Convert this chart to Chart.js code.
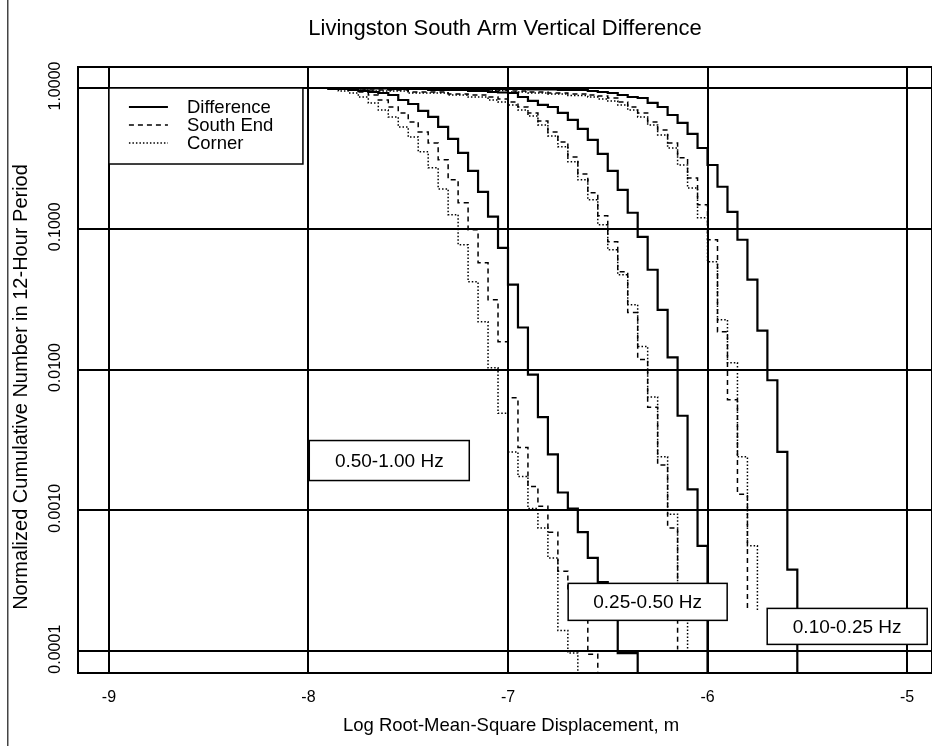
<!DOCTYPE html>
<html>
<head>
<meta charset="utf-8">
<script src="https://cdn.jsdelivr.net/npm/chart.js@4.4.1/dist/chart.umd.min.js"></script>
<style>
  html, body { margin: 0; padding: 0; background: #fff; }
  #wrap { width: 932px; height: 746px; position: relative; }
</style>
</head>
<body>
<div id="wrap"><canvas id="chart"></canvas></div>
<script>
const seriesNames = ["Difference", "South End", "Corner"];
const bandNames = ["0.50-1.00 Hz", "0.25-0.50 Hz", "0.10-0.25 Hz"];

const xTicks = [-9, -8, -7, -6, -5];
const yTicks = [0.0001, 0.001, 0.01, 0.1, 1];
const yTickLabels = ["0.0001", "0.0010", "0.0100", "0.1000", "1.0000"];

// 0.50-1.00 Hz
const diffHighX = [-8.0, -7.9, -7.8, -7.75, -7.7, -7.65, -7.6, -7.55, -7.5, -7.45, -7.4, -7.35, -7.3, -7.25, -7.2, -7.15, -7.1, -7.05, -7.0, -6.95, -6.9, -6.85, -6.8, -6.75, -6.7, -6.65, -6.6, -6.55, -6.5, -6.45, -6.35];
const diffHighY = [1.0, 0.984, 0.968, 0.952, 0.937, 0.922, 0.892, 0.822, 0.770, 0.687, 0.623, 0.529, 0.435, 0.346, 0.258, 0.183, 0.122, 0.0733, 0.0401, 0.0199, 0.0092, 0.0046, 0.0025, 0.00134, 0.00103, 0.00070, 0.00046, 0.00031, 0.00022, 0.000097, 0.00005];
const southHighX = [-8.0, -7.9, -7.8, -7.75, -7.7, -7.65, -7.6, -7.55, -7.5, -7.45, -7.4, -7.35, -7.3, -7.25, -7.2, -7.15, -7.1, -7.05, -7.0, -6.95, -6.9, -6.85, -6.8, -6.75, -6.7, -6.65, -6.6, -6.55];
const southHighY = [1.0, 0.984, 0.968, 0.937, 0.892, 0.822, 0.733, 0.665, 0.574, 0.488, 0.407, 0.309, 0.223, 0.153, 0.0984, 0.0574, 0.0314, 0.0158, 0.0063, 0.0028, 0.00148, 0.00107, 0.00070, 0.00037, 0.00027, 0.00020, 0.000095, 0.00005];
const cornerHighX = [-8.0, -7.9, -7.85, -7.8, -7.75, -7.7, -7.65, -7.6, -7.55, -7.5, -7.45, -7.4, -7.35, -7.3, -7.25, -7.2, -7.15, -7.1, -7.05, -7.0, -6.95, -6.9, -6.85, -6.8, -6.75, -6.7, -6.65];
const cornerHighY = [1.0, 0.984, 0.952, 0.922, 0.863, 0.783, 0.698, 0.623, 0.529, 0.449, 0.352, 0.271, 0.192, 0.126, 0.0770, 0.0421, 0.0219, 0.0103, 0.0049, 0.0026, 0.00174, 0.00103, 0.00075, 0.00046, 0.00014, 0.000097, 0.00005];

// 0.25-0.50 Hz
const diffMidX = [-8.0, -7.8, -7.6, -7.4, -7.2, -7.1, -7.05, -7.0, -6.95, -6.9, -6.85, -6.8, -6.75, -6.7, -6.65, -6.6, -6.55, -6.5, -6.45, -6.4, -6.35, -6.3, -6.25, -6.2, -6.15, -6.1, -6.05, -6.0];
const diffMidY = [1.0, 0.992, 0.984, 0.968, 0.952, 0.937, 0.929, 0.922, 0.863, 0.809, 0.758, 0.733, 0.665, 0.593, 0.512, 0.428, 0.340, 0.258, 0.189, 0.130, 0.0877, 0.0512, 0.0266, 0.0122, 0.0047, 0.00141, 0.00056, 0.00005];
const southMidX = [-8.0, -7.9, -7.7, -7.5, -7.3, -7.2, -7.1, -7.05, -7.0, -6.95, -6.9, -6.85, -6.8, -6.75, -6.7, -6.65, -6.6, -6.55, -6.5, -6.45, -6.4, -6.35, -6.3, -6.25, -6.2, -6.15];
const southMidY = [1.0, 0.984, 0.968, 0.937, 0.907, 0.892, 0.863, 0.836, 0.796, 0.733, 0.665, 0.583, 0.488, 0.414, 0.324, 0.245, 0.180, 0.124, 0.0809, 0.0495, 0.0254, 0.0118, 0.0054, 0.0021, 0.00075, 0.000103];
const cornerMidX = [-8.0, -7.9, -7.7, -7.5, -7.3, -7.2, -7.1, -7.05, -7.0, -6.95, -6.9, -6.85, -6.8, -6.75, -6.7, -6.65, -6.6, -6.55, -6.5, -6.45, -6.4, -6.35, -6.3, -6.25, -6.2, -6.15, -6.1];
const cornerMidY = [1.0, 0.984, 0.952, 0.922, 0.892, 0.863, 0.822, 0.796, 0.758, 0.698, 0.633, 0.547, 0.457, 0.382, 0.299, 0.223, 0.161, 0.107, 0.0710, 0.0472, 0.0289, 0.0146, 0.0064, 0.0024, 0.00094, 0.00023, 0.000098];

// 0.10-0.25 Hz
const diffLowX = [-8.0, -7.6, -7.2, -6.9, -6.75, -6.6, -6.55, -6.5, -6.45, -6.4, -6.35, -6.3, -6.25, -6.2, -6.15, -6.1, -6.05, -6.0, -5.95, -5.9, -5.85, -5.8, -5.75, -5.7, -5.65, -5.6, -5.55];
const diffLowY = [1.0, 0.992, 0.984, 0.976, 0.968, 0.952, 0.937, 0.922, 0.892, 0.863, 0.849, 0.783, 0.733, 0.643, 0.565, 0.472, 0.375, 0.284, 0.199, 0.132, 0.0836, 0.0435, 0.0189, 0.0084, 0.0026, 0.00038, 0.00005];
const southLowX = [-8.0, -7.6, -7.2, -7.0, -6.9, -6.8, -6.7, -6.6, -6.55, -6.5, -6.45, -6.4, -6.35, -6.3, -6.25, -6.2, -6.15, -6.1, -6.05, -6.0, -5.95, -5.9, -5.85, -5.8];
const southLowY = [1.0, 0.984, 0.968, 0.952, 0.937, 0.922, 0.907, 0.892, 0.878, 0.849, 0.796, 0.733, 0.665, 0.574, 0.504, 0.407, 0.319, 0.230, 0.148, 0.0836, 0.0186, 0.0061, 0.00130, 0.00019];
const cornerLowX = [-8.0, -7.6, -7.2, -7.0, -6.9, -6.8, -6.7, -6.6, -6.55, -6.5, -6.45, -6.4, -6.35, -6.3, -6.25, -6.2, -6.15, -6.1, -6.05, -6.0, -5.95, -5.9, -5.85, -5.8, -5.75];
const cornerLowY = [1.0, 0.984, 0.960, 0.937, 0.922, 0.907, 0.885, 0.863, 0.836, 0.809, 0.758, 0.698, 0.623, 0.547, 0.464, 0.375, 0.284, 0.195, 0.120, 0.0583, 0.0226, 0.0112, 0.0024, 0.00056, 0.00019];

// where the band labels sit (data units)
const bandLabelX = [-7.595, -6.3, -5.3];
const bandLabelY = [0.00226, 0.000224, 0.00015];

const FONT = '"Liberation Sans", Arial, Helvetica, sans-serif';
const styles = [
    { borderWidth: 2.2, borderDash: [] },
    { borderWidth: 1.5, borderDash: [5, 4] },
    { borderWidth: 1.5, borderDash: [1.5, 2] }
];

function pts(xs, ys) {
    return xs.map((x, i) => ({ x: x, y: ys[i] }));
}

function line(name, xs, ys, kind) {
    return {
        label: name,
        data: pts(xs, ys),
        borderColor: "#000",
        borderWidth: styles[kind].borderWidth,
        borderDash: styles[kind].borderDash,
        pointRadius: 0,
        stepped: "before",
        fill: false
    };
}

const decor = {
    id: "decor",
    afterDatasetsDraw(chart) {
        const ctx = chart.ctx;
        const xs = chart.scales.x, ys = chart.scales.y;
        ctx.save();

        // band label boxes
        const sizes = [[160, 40], [159, 37], [160, 36]];
        ctx.font = "19px " + FONT;
        ctx.textAlign = "center";
        ctx.textBaseline = "middle";
        bandNames.forEach((t, i) => {
            const cx = xs.getPixelForValue(bandLabelX[i]);
            const cy = ys.getPixelForValue(bandLabelY[i]);
            const w = sizes[i][0], h = sizes[i][1];
            ctx.fillStyle = "#fff";
            ctx.fillRect(cx - w / 2, cy - h / 2, w, h);
            ctx.strokeStyle = "#000";
            ctx.lineWidth = 1.5;
            ctx.strokeRect(cx - w / 2, cy - h / 2, w, h);
            ctx.fillStyle = "#000";
            ctx.fillText(t, cx, cy + 1);
        });

        // legend box in the upper left corner
        const lx = xs.getPixelForValue(-9), ly = ys.getPixelForValue(1);
        ctx.fillStyle = "#fff";
        ctx.fillRect(lx, ly, 194, 76);
        ctx.strokeStyle = "#000";
        ctx.lineWidth = 1.5;
        ctx.strokeRect(lx, ly, 194, 76);
        ctx.font = "18.5px " + FONT;
        ctx.textAlign = "left";
        seriesNames.forEach((name, i) => {
            const yy = ly + 19 + i * 18;
            ctx.beginPath();
            ctx.lineWidth = styles[i].borderWidth;
            ctx.setLineDash(styles[i].borderDash);
            ctx.moveTo(lx + 20, yy);
            ctx.lineTo(lx + 59, yy);
            ctx.stroke();
            ctx.setLineDash([]);
            ctx.fillStyle = "#000";
            ctx.fillText(name, lx + 78, yy + 1);
        });
        ctx.restore();
    },
    afterDraw(chart) {
        const ctx = chart.ctx, a = chart.chartArea;
        const ys = chart.scales.y;
        ctx.save();
        ctx.fillStyle = "#000";

        // frame
        ctx.strokeStyle = "#000";
        ctx.lineWidth = 2;
        ctx.strokeRect(a.left, a.top, a.right - a.left, a.bottom - a.top);

        // scan edge line at the far left
        ctx.fillStyle = "#444";
        ctx.fillRect(7, 0, 1.5, 746);
        ctx.fillStyle = "#000";

        // title
        ctx.font = "22px " + FONT;
        ctx.textAlign = "center";
        ctx.textBaseline = "middle";
        ctx.fillText("Livingston South Arm Vertical Difference", 505, 29);

        // x axis title
        ctx.font = "18.5px " + FONT;
        ctx.fillText("Log Root-Mean-Square Displacement, m", 511, 726);

        // y tick labels, rotated
        ctx.font = "16px " + FONT;
        yTicks.forEach((v, i) => {
            ctx.save();
            ctx.translate(56, ys.getPixelForValue(v) - 2);
            ctx.rotate(-Math.PI / 2);
            ctx.fillText(yTickLabels[i], 0, 0);
            ctx.restore();
        });

        // y axis title
        ctx.save();
        ctx.translate(21, 387);
        ctx.rotate(-Math.PI / 2);
        ctx.font = "20px " + FONT;
        ctx.fillText("Normalized Cumulative Number in 12-Hour Period", 0, 0);
        ctx.restore();

        ctx.restore();
    }
};

const datasets = [
    line("Difference 0.50-1.00 Hz", diffHighX, diffHighY, 0),
    line("South End 0.50-1.00 Hz", southHighX, southHighY, 1),
    line("Corner 0.50-1.00 Hz", cornerHighX, cornerHighY, 2),
    line("Difference 0.25-0.50 Hz", diffMidX, diffMidY, 0),
    line("South End 0.25-0.50 Hz", southMidX, southMidY, 1),
    line("Corner 0.25-0.50 Hz", cornerMidX, cornerMidY, 2),
    line("Difference 0.10-0.25 Hz", diffLowX, diffLowY, 0),
    line("South End 0.10-0.25 Hz", southLowX, southLowY, 1),
    line("Corner 0.10-0.25 Hz", cornerLowX, cornerLowY, 2)
];

new Chart(document.getElementById("chart").getContext("2d"), {
    type: "line",
    data: { datasets: datasets },
    options: {
        responsive: true,
        maintainAspectRatio: false,
        animation: false,
        layout: { padding: { top: 67, left: 0, right: 0, bottom: 0 } },
        plugins: {
            legend: { display: false },
            tooltip: { enabled: false },
            title: { display: false }
        },
        scales: {
            x: {
                type: "linear",
                min: -9.155,
                max: -4.875,
                afterBuildTicks: scale => { scale.ticks = xTicks.map(v => ({ value: v })); },
                afterFit: scale => { scale.height = 73; },
                grid: { color: "#000", lineWidth: 2, drawTicks: false },
                border: { display: true, color: "#000", width: 2 },
                ticks: {
                    padding: 15,
                    color: "#000",
                    font: { family: FONT, size: 16 },
                    callback: v => String(v)
                }
            },
            y: {
                type: "logarithmic",
                min: 0.000071,
                max: 1.41,
                afterBuildTicks: scale => { scale.ticks = yTicks.map(v => ({ value: v })); },
                afterFit: scale => { scale.width = 78; },
                grid: { color: "#000", lineWidth: 2, drawTicks: false },
                border: { display: true, color: "#000", width: 2 },
                ticks: { display: false }
            }
        }
    },
    plugins: [decor]
});
</script>
</body>
</html>
